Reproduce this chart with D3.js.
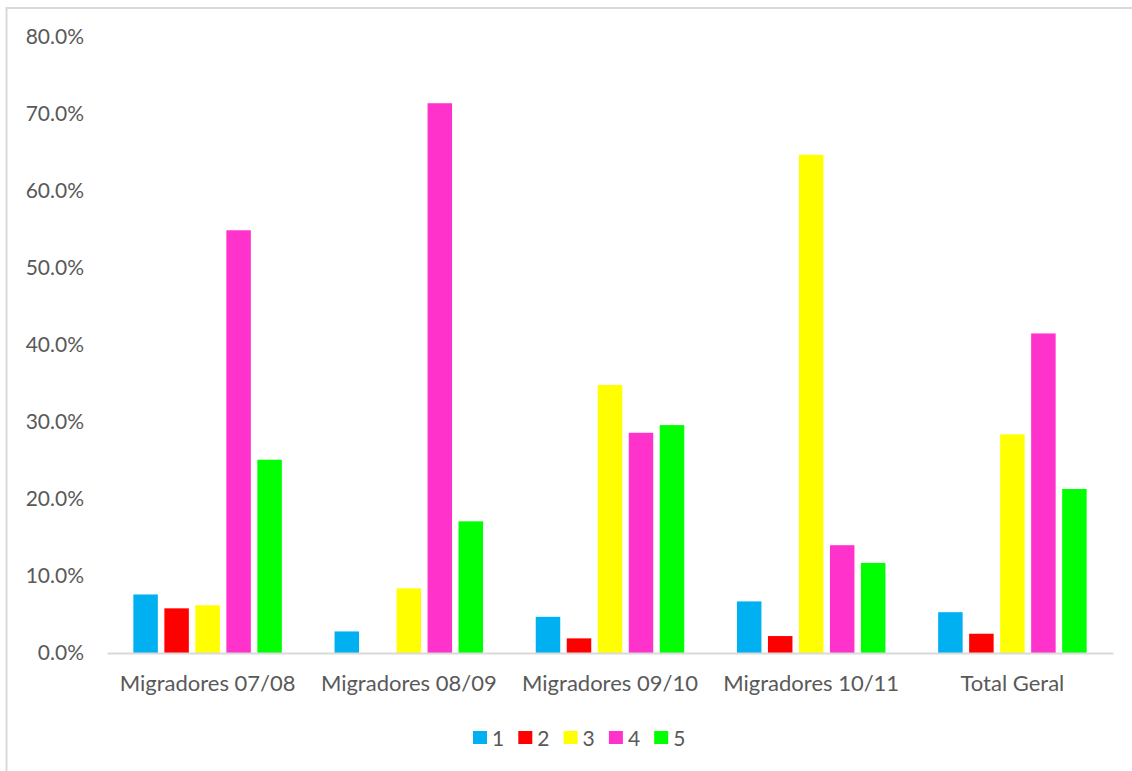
<!DOCTYPE html>
<html>
<head>
<meta charset="utf-8">
<script src="https://cdn.jsdelivr.net/npm/d3@7"></script>
<style>
  html, body { margin: 0; padding: 0; background: #fff; }
  svg { display: block; }
  text { font-family: Lato, "Open Sans", "Liberation Sans", sans-serif; fill: #595959; }
</style>
</head>
<body>
<svg id="chart" width="1132" height="771"></svg>
<script>
// Categories on the x axis
const categories = ["Migradores 07/08", "Migradores 08/09", "Migradores 09/10", "Migradores 10/11", "Total Geral"];
// Series names shown in the legend
const seriesNames = ["1", "2", "3", "4", "5"];
// Share of each class per category (fractions)
const series1 = [0.076, 0.028, 0.047, 0.067, 0.053];
const series2 = [0.058, 0.000, 0.019, 0.022, 0.025];
const series3 = [0.062, 0.084, 0.348, 0.647, 0.284];
const series4 = [0.549, 0.714, 0.286, 0.140, 0.415];
const series5 = [0.251, 0.171, 0.296, 0.117, 0.213];
// Y axis ticks
const yTicks = [0, 0.1, 0.2, 0.3, 0.4, 0.5, 0.6, 0.7, 0.8];

const seriesValues = [series1, series2, series3, series4, series5];
const colors = ["#00B0F0", "#FF0000", "#FFFF00", "#FF33CC", "#00FF00"];

const svg = d3.select("#chart");

// Outer chart frame
svg.append("rect")
  .attr("x", 6.5).attr("y", 8)
  .attr("width", 1200).attr("height", 800)
  .attr("fill", "none").attr("stroke", "#D9D9D9").attr("stroke-width", 2);

const plot = { left: 107, right: 1113, top: 37, bottom: 653 };

const x0 = d3.scaleBand().domain(categories).range([plot.left, plot.right]).padding(0);
const x1 = d3.scaleBand().domain(seriesNames).range([0, x0.bandwidth()])
  .paddingInner(0.21).paddingOuter(0.85);
const y = d3.scaleLinear().domain([0, 0.8]).range([plot.bottom, plot.top]);

// Bars
const groups = svg.append("g").selectAll("g")
  .data(categories)
  .join("g")
  .attr("transform", d => `translate(${x0(d)},0)`);

groups.selectAll("rect")
  .data((cat, i) => seriesNames.map((s, j) => ({ s, v: seriesValues[j][i], c: colors[j] })))
  .join("rect")
  .attr("x", d => x1(d.s))
  .attr("width", x1.bandwidth())
  .attr("y", d => y(d.v))
  .attr("height", d => y(0) - y(d.v))
  .attr("fill", d => d.c);

// Y axis labels (no axis line, no gridlines)
const yAxis = d3.axisLeft(y).tickValues(yTicks).tickFormat(d3.format(".1%")).tickSize(0).tickPadding(0);
const gy = svg.append("g").attr("transform", "translate(84,0)").call(yAxis);
gy.select(".domain").remove();
gy.selectAll("text").attr("font-size", 21).attr("font-family", null).attr("fill", "#595959");

// X axis baseline and category labels
const xAxis = d3.axisBottom(x0).tickSize(0).tickPadding(22);
const gx = svg.append("g").attr("transform", `translate(0,${plot.bottom})`).call(xAxis);
gx.select(".domain").attr("stroke", "#D9D9D9").attr("stroke-width", 2);
gx.selectAll("text").attr("font-size", 22).attr("font-family", null).attr("fill", "#595959");

// Legend
const legend = svg.append("g").attr("transform", "translate(473,731)");
const item = legend.selectAll("g")
  .data(seriesNames)
  .join("g")
  .attr("transform", (d, i) => `translate(${i * 45.3},0)`);
item.append("rect").attr("width", 14).attr("height", 13).attr("fill", (d, i) => colors[i]);
item.append("text").attr("x", 19).attr("y", 15).attr("font-size", 21).text(d => d);
</script>
</body>
</html>
